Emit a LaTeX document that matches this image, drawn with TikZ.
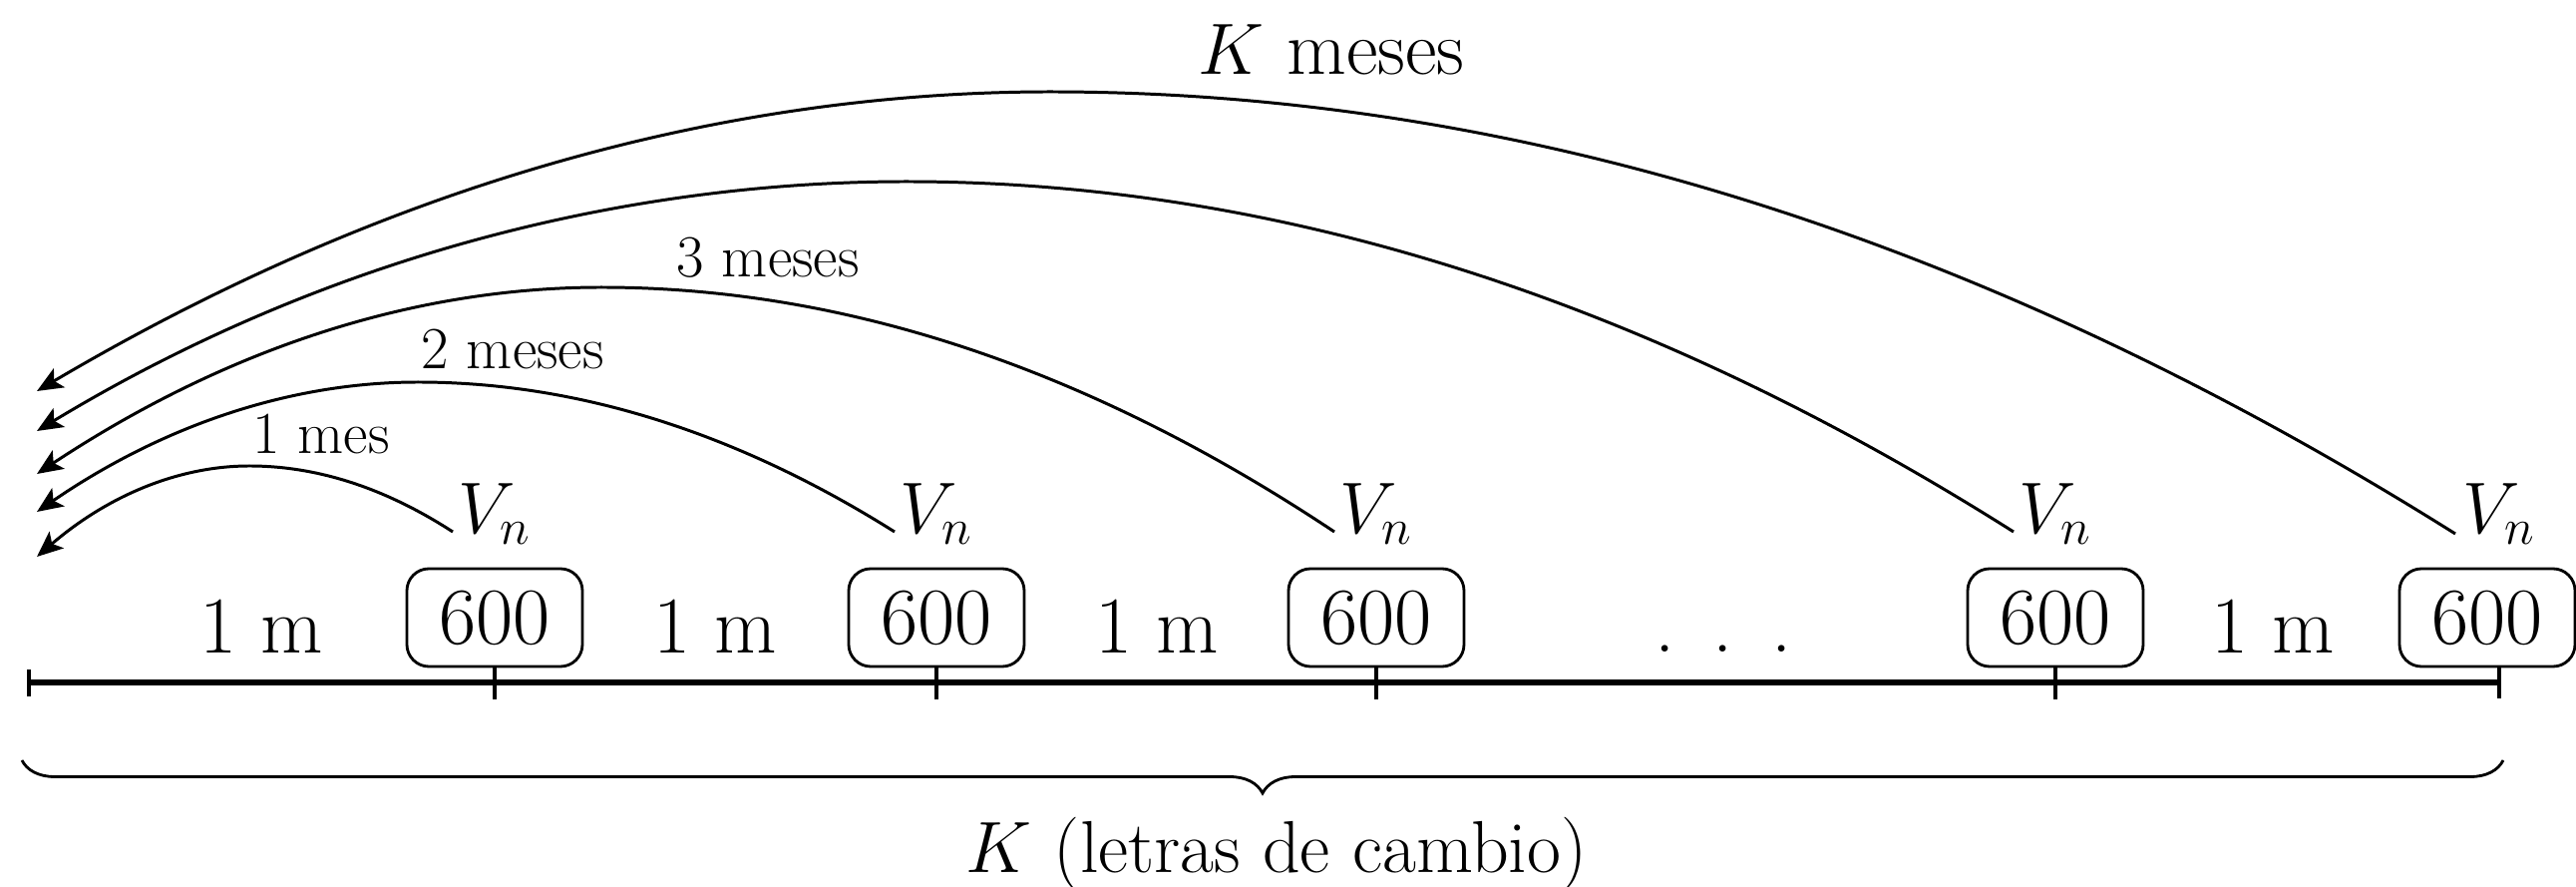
\documentclass[tikz,border=0pt]{standalone}
\usetikzlibrary{arrows.meta,decorations.pathreplacing}
\begin{document}
\begin{tikzpicture}[x=0.1mm,y=0.1mm,
  bigtxt/.style={font=\fontsize{23}{27}\selectfont},
  midtxt/.style={font=\fontsize{22}{26}\selectfont},
  smalltxt/.style={font=\fontsize{17}{20}\selectfont},
  valbox/.style={draw, line width=0.8pt, rounded corners=2.2mm, minimum width=17.6mm, minimum height=9.8mm, inner sep=0pt, bigtxt},
  axisline/.style={line width=1.8pt},
  tickline/.style={line width=0.9pt},
  arcline/.style={line width=0.85pt, -{Stealth[length=2.6mm,width=2.2mm,inset=0.6mm]}},
  lbl/.style={anchor=base, inner sep=0pt},
  bracestyle/.style={line width=0.8pt, decorate, decoration={brace, mirror, amplitude=3.3mm}},
]
\useasboundingbox (0,0) rectangle (2583,-889);

% axis
\coordinate (L) at (29,-684);
\coordinate (R) at (2506,-684);
\draw[axisline] (L) -- (R);
\draw[tickline] (29,-671) -- (29,-698);

% value boxes
\node[valbox] (b1) at (496,-619) {600};
\node[valbox] (b2) at (939,-619) {600};
\node[valbox] (b3) at (1380,-619) {600};
\node[valbox] (b4) at (2061,-619) {600};
\node[valbox] (b5) at (2494,-619) {600};

% ticks
\draw[tickline] (496,-668) -- (496,-701);
\draw[tickline] (939,-668) -- (939,-701);
\draw[tickline] (1380,-668) -- (1380,-701);
\draw[tickline] (2061,-668) -- (2061,-701);
\draw[tickline] (2506,-668) -- (2506,-700);

% interval labels
\node[bigtxt,lbl] (m1) at (262,-655) {1 m};
\node[bigtxt,lbl] (m2) at (717,-655) {1 m};
\node[bigtxt,lbl] (m3) at (1160,-655) {1 m};
\node[bigtxt,lbl] (dots) at (1728,-654) {.\hspace{10.9pt}.\hspace{10.9pt}.};
\node[bigtxt,lbl] (m4) at (2279,-655) {1 m};

% V_n labels
\node[midtxt,lbl] (v1) at (496,-535) {$V_n$};
\node[midtxt,lbl] (v2) at (939,-535) {$V_n$};
\node[midtxt,lbl] (v3) at (1380,-535) {$V_n$};
\node[midtxt,lbl] (v4) at (2061,-535) {$V_n$};
\node[midtxt,lbl] (v5) at (2506,-535) {$V_n$};

% arc coordinates
\coordinate (s1) at (454,-533);
\coordinate (s2) at (897,-533);
\coordinate (s3) at (1338,-533);
\coordinate (s4) at (2019,-533);
\coordinate (s5) at (2462,-535);
\coordinate (p1) at (250,-467);
\coordinate (p2) at (419,-383);
\coordinate (p3) at (603,-288);
\coordinate (p4) at (909,-182);
\coordinate (p5) at (1053,-92);
\coordinate (t1) at (37,-558);
\coordinate (t2) at (37,-513);
\coordinate (t3) at (37,-475);
\coordinate (t4) at (37,-432);
\coordinate (t5) at (37,-392);

\draw[arcline] (s1) .. controls (386,-489) and (318,-467) .. (p1)
                    .. controls (179,-467) and (108,-497) .. (t1);
\draw[arcline] (s2) .. controls (738,-433) and (578,-383) .. (p2)
                    .. controls (292,-383) and (164,-426) .. (t2);
\draw[arcline] (s3) .. controls (1093,-370) and (848,-288) .. (p3)
                    .. controls (414,-288) and (226,-350) .. (t3);
\draw[arcline] (s4) .. controls (1649,-299) and (1279,-182) .. (p4)
                    .. controls (618,-182) and (318,-262) .. (t4);
\draw[arcline] (s5) .. controls (1992,-240) and (1523,-92) .. (p5)
                    .. controls (714,-92) and (376,-192) .. (t5);

% arc labels
\node[smalltxt,lbl] (l1) at (322,-455) {1 mes};
\node[smalltxt,lbl] (l2) at (514,-370) {2 meses};
\node[smalltxt,lbl] (l3) at (770,-278) {3 meses};
\node[midtxt,lbl] (lk) at (1335,-75) {$K$ meses};

% brace
\coordinate (bl) at (22,-762);
\coordinate (br) at (2510,-762);
\draw[bracestyle] (bl) -- (br);
\node[font=\fontsize{21}{25}\selectfont,lbl] (kl) at (1280,-875) {$K$ (letras de cambio)};
\end{tikzpicture}
\end{document}
